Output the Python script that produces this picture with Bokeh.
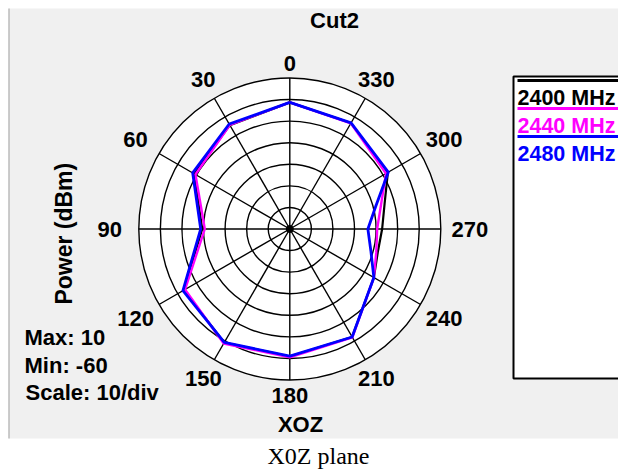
import numpy as np
from bokeh.plotting import figure
from bokeh.models import Range1d
from bokeh.core.properties import value
from bokeh.embed import file_html
from bokeh.resources import INLINE

# ---------------- data (dBm) ----------------
angles_deg = [0, 30, 60, 90, 120, 150, 180, 210, 240, 255, 270, 285, 300, 330]
p2400 = [-1.3, -4.4, -8.8, -19.4, -3.3, 0.8, -0.9, -2.2, -15.0, -17.8, -17.2, -14.5, -7.5, -3.3]
p2440 = [-1.3, -4.3, -9.5, -20.6, -3.9, 1.3, -0.5, -2.0, -15.0, -18.5, -19.5, -16.2, -8.5, -3.4]
p2480 = [-1.3, -3.8, -8.0, -18.7, -2.8, 0.7, -1.1, -2.2, -15.0, -21.1, -23.8, -18.7, -7.3, -3.2]
series_names = ["2400 MHz", "2440 MHz", "2480 MHz"]
series_colors = ["#000000", "#FF00FF", "#0000FF"]
r_max, r_min, r_step = 10, -60, 10
spoke_angles = list(range(0, 360, 30))
spoke_labels = [str(a) for a in spoke_angles]
title_text = "Cut2"
ylabel_text = "Power  (dBm)"
xlabel_text = "XOZ"
info_texts = ["Max: 10", "Min: -60", "Scale: 10/div"]
caption_text = "X0Z plane"

# ---------------- geometry ----------------
W, H = 618, 474           # figure size (page renders it at the top-left corner)
CXP, CYP = 289.3, 228.5   # page pixel of polar centre
RPX = 151.0               # outer radius in px
SPAN = r_max - r_min
S = RPX / SPAN            # px per dB

def px(xp):
    return (xp - CXP) / S

def py(yp):
    return (CYP - yp) / S

def polar(theta_deg, rr):
    t = np.radians(np.asarray(theta_deg, dtype=float))
    rr = np.asarray(rr, dtype=float)
    return -rr * np.sin(t), rr * np.cos(t)

p = figure(width=W, height=H, output_backend="svg", toolbar_location=None,
           x_range=Range1d(px(0), px(W)), y_range=Range1d(py(H), py(0)),
           min_border=0, outline_line_color=None)
p.axis.visible = False
p.grid.visible = False
p.background_fill_color = "#FFFFFF"
p.border_fill_color = "#FFFFFF"

# grey panel with its left edge
p.quad(left=px(8), right=px(700), top=py(8), bottom=py(438), fill_color="#F0F0F0", line_color=None)
p.segment(x0=px(8.5), y0=py(8), x1=px(8.5), y1=py(438), line_color="#A0A0A0", line_width=1)

FONT = value("Liberation Sans")

# polar disk and grid
p.circle(x=0, y=0, radius=SPAN, fill_color="#FFFFFF", line_color=None)
rings = [k for k in range(r_step, SPAN + 1, r_step)]
p.circle(x=[0] * len(rings), y=[0] * len(rings), radius=rings, fill_color=None,
         line_color="#000000", line_width=1.4)
sx, sy = polar(spoke_angles, [SPAN] * len(spoke_angles))
p.segment(x0=[0] * len(spoke_angles), y0=[0] * len(spoke_angles), x1=sx, y1=sy,
          line_color="#000000", line_width=1.4)
p.scatter(x=[0], y=[0], size=7, color="#000000")

# traces
for vals, col, lw in zip([p2400, p2440, p2480], series_colors, [2.2, 2.4, 2.8]):
    a = list(angles_deg) + [angles_deg[0]]
    v = list(vals) + [vals[0]]
    xx, yy = polar(a, np.asarray(v) - r_min)
    p.line(xx, yy, line_color=col, line_width=lw, line_join="round")

# angle labels
lab_r = []
for a in spoke_angles:
    lab_r.append((166 + 14 * abs(np.sin(np.radians(a)))) / S)
lx, ly = polar(spoke_angles, lab_r)
p.text(x=lx, y=ly, text=spoke_labels, text_font=FONT, text_font_style="bold",
       text_font_size="22px", text_align="center", text_baseline="middle", text_color="#000000")

# title, axis labels, info
p.text(x=[px(334)], y=[py(20)], text=[title_text], text_font=FONT, text_font_style="bold",
       text_font_size="22px", text_align="center", text_baseline="middle")
p.text(x=[px(63)], y=[py(230)], text=[ylabel_text], angle=np.pi / 2, text_font=FONT,
       text_font_style="bold", text_font_size="23px", text_align="center", text_baseline="middle")
p.text(x=[px(300)], y=[py(424)], text=[xlabel_text], text_font=FONT, text_font_style="bold",
       text_font_size="22px", text_align="center", text_baseline="middle")
p.text(x=[px(24), px(24), px(25)], y=[py(337), py(365), py(392)], text=info_texts, text_font=FONT,
       text_font_style="bold", text_font_size="22px", text_align="left", text_baseline="middle")
p.text(x=[px(318)], y=[py(455)], text=[caption_text], text_font=value("Liberation Serif"),
       text_font_size="24px", text_align="center", text_baseline="middle")

# legend box
p.quad(left=px(513), right=px(700), top=py(76), bottom=py(378), fill_color="#FFFFFF",
       line_color="#000000", line_width=2)
for i, (name, col) in enumerate(zip(series_names, series_colors)):
    yl = 80 + 28 * i
    p.segment(x0=px(517), y0=py(yl), x1=px(700), y1=py(yl), line_color=col, line_width=3)
    p.text(x=[px(517)], y=[py(yl + 17)], text=[name], text_font=FONT, text_font_style="bold",
           text_font_size="21.5px", text_align="left", text_baseline="middle", text_color=col)

open("out.html", "w").write(file_html(p, INLINE))
